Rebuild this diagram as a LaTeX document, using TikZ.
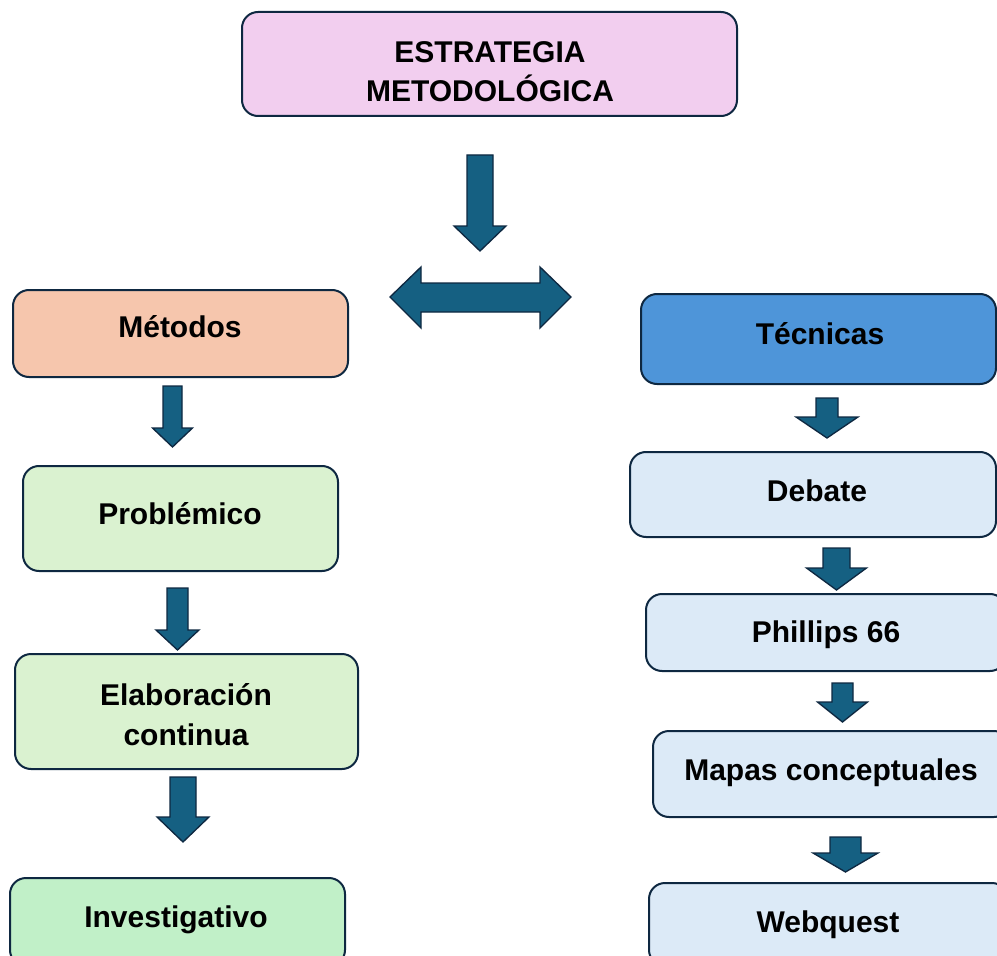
\documentclass[tikz,border=0pt]{standalone}
\usepackage{fontspec}
\setmainfont{Liberation Sans}
\newlength\pxu \setlength\pxu{0.75pt}
\definecolor{edge}{HTML}{0E2841}
\definecolor{arrowfill}{HTML}{156082}
\definecolor{pinkfill}{HTML}{F2CEEF}
\definecolor{peachfill}{HTML}{F6C6AD}
\definecolor{bluefill}{HTML}{4E95D9}
\definecolor{lgreen}{HTML}{DAF2D0}
\definecolor{mgreen}{HTML}{C1F0C8}
\definecolor{lblue}{HTML}{DCEAF7}
\newcommand\DownBlk[6]{\draw[blk] (#1-#2,#3) -- (#1+#2,#3) -- (#1+#2,#4) -- (#1+#5,#4) -- (#1,#6) -- (#1-#5,#4) -- (#1-#2,#4) -- cycle;}
\begin{document}
\begin{tikzpicture}[x=0.75pt,y=-0.75pt,
  box/.style={draw=edge, line width=1.5pt, rounded corners=12pt, inner sep=0pt},
  lbl/.style={font=\bfseries\fontsize{22.5}{27}\selectfont, anchor=base, inner sep=0pt},
  blk/.style={fill=arrowfill, draw=edge, line width=1pt, line join=miter}]
\fill[white] (0,0) rectangle (997,956);
\clip (0,0) rectangle (997,956);
% boxes
\node[box, fill=pinkfill, minimum width=495\pxu, minimum height=104\pxu] (top) at (489.5,64) {};
\node[box, fill=peachfill, minimum width=335\pxu, minimum height=87\pxu] (met) at (180.5,333.5) {};
\node[box, fill=bluefill, minimum width=355\pxu, minimum height=90\pxu] (tec) at (818.5,339) {};
\node[box, fill=lgreen, minimum width=315\pxu, minimum height=105\pxu] (prob) at (180.5,518.5) {};
\node[box, fill=lgreen, minimum width=343\pxu, minimum height=115\pxu] (elab) at (186.5,711.5) {};
\node[box, fill=mgreen, minimum width=335\pxu, minimum height=88\pxu] (inv) at (177.5,922) {};
\node[box, fill=lblue, minimum width=366\pxu, minimum height=85\pxu] (deb) at (813,494.5) {};
\node[box, fill=lblue, minimum width=360\pxu, minimum height=77\pxu] (phi) at (826,632.5) {};
\node[box, fill=lblue, minimum width=357\pxu, minimum height=86\pxu] (map) at (831.5,774) {};
\node[box, fill=lblue, minimum width=359\pxu, minimum height=83\pxu] (web) at (828.5,924.5) {};
% labels
\node[lbl] (topA) at (490,63) {ESTRATEGIA};
\node[lbl] (topB) at (490,102) {METODOLÓGICA};
\node[lbl] (metT) at (180,337) {Métodos};
\node[lbl] (tecT) at (820,344) {Técnicas};
\node[lbl] (probT) at (180,524) {Problémico};
\node[lbl] (elabA) at (186,705) {Elaboración};
\node[lbl] (elabB) at (186,745) {continua};
\node[lbl] (invT) at (176,927) {Investigativo};
\node[lbl] (debT) at (817,501) {Debate};
\node[lbl] (phiT) at (826,642) {Phillips 66};
\node[lbl] (mapT) at (831,780) {Mapas conceptuales};
\node[lbl] (webT) at (828,932) {Webquest};
% block arrows
\DownBlk{480}{13}{155}{226}{26}{251}
\draw[blk] (390,297) -- (421,267) -- (421,283) -- (540,283) -- (540,267) -- (571,297) -- (540,328) -- (540,312) -- (421,312) -- (421,328) -- cycle;
\DownBlk{172.5}{9.5}{386}{428}{20}{447}
\DownBlk{177.5}{10.5}{588}{630}{21.5}{650}
\DownBlk{183}{13}{777}{817}{26}{842}
\DownBlk{827}{11}{398}{417}{31}{438}
\DownBlk{836.5}{13.5}{548}{568}{30}{590}
\DownBlk{842.5}{10.5}{683}{702}{25}{722}
\DownBlk{845.5}{15.5}{837}{853}{32.5}{872}
\end{tikzpicture}
\end{document}
